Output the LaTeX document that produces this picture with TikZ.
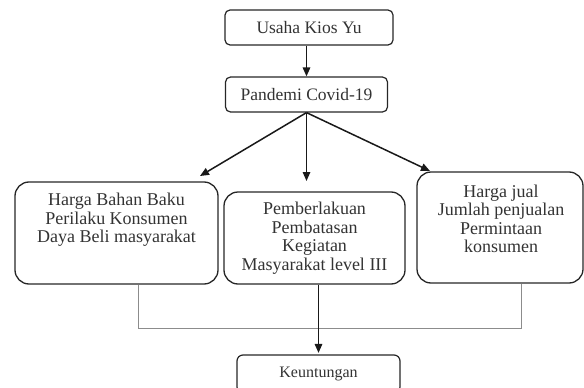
\documentclass[tikz,border=0pt]{standalone}
\usepackage{fontspec}
\setmainfont{Liberation Serif}
\usetikzlibrary{arrows.meta}
\begin{document}
\begin{tikzpicture}[x=1pt,y=-1pt,
  smallbox/.style={draw=black!85, line width=1.2pt, rounded corners=5pt, inner sep=0pt, text=black!80, font=\fontsize{17.5}{18}\selectfont},
  bigbox/.style={draw=black!85, line width=1.3pt, rounded corners=14pt, inner sep=0pt},
  boxtext/.style={align=center, inner sep=0pt, text=black!80, font=\fontsize{18}{18.5}\selectfont},
  arr/.style={line width=1.5pt, draw=black!90, -{Triangle[length=9pt,width=7.5pt]}},
  grayline/.style={line width=0.9pt, draw=black!45}
]
\useasboundingbox (0,0) rectangle (584,388);
\clip (0,0) rectangle (584,388);

\node[smallbox, minimum width=168pt, minimum height=35pt] (usaha) at (309,27.5) {Usaha Kios Yu};
\node[smallbox, minimum width=162pt, minimum height=35pt] (pandemi) at (306.5,94.5) {Pandemi Covid-19};

\node[bigbox, minimum width=203pt, minimum height=102pt] (lbox) at (116.5,233) {};
\node[boxtext] (ltext) at (116.5,220) {Harga Bahan Baku\\Perilaku Konsumen\\Daya Beli masyarakat};

\node[bigbox, minimum width=181pt, minimum height=92pt] (mbox) at (314.5,238) {};
\node[boxtext] (mtext) at (314.5,238) {Pemberlakuan\\Pembatasan\\Kegiatan\\Masyarakat level III};

\node[bigbox, minimum width=166pt, minimum height=111pt] (rbox) at (500,227.5) {};
\node[boxtext] (rtext) at (501,219) {Harga jual\\Jumlah penjualan\\Permintaan\\konsumen};

\node[smallbox, rounded corners=6pt, minimum width=163pt, minimum height=38pt, font=\fontsize{16}{16}\selectfont, text depth=3pt] (keun) at (318.5,374) {Keuntungan};

\coordinate (cl) at (200,176);
\coordinate (cm) at (306.5,181);
\coordinate (cr) at (430,171);
\coordinate (lj) at (138,328);
\coordinate (rj) at (521,328);

\draw[arr] (usaha.south -| pandemi.north) -- (pandemi.north);
\draw[arr] (pandemi.south) -- (cl);
\draw[arr] (pandemi.south) -- (cm);
\draw[arr] (pandemi.south) -- (cr);

\draw[grayline] (lbox.south -| lj) -- (lj) -- (rj) -- (rbox.south -| rj);
\draw[arr, shorten >=1.5pt] (mbox.south -| keun.north) -- (keun.north);
\end{tikzpicture}
\end{document}
